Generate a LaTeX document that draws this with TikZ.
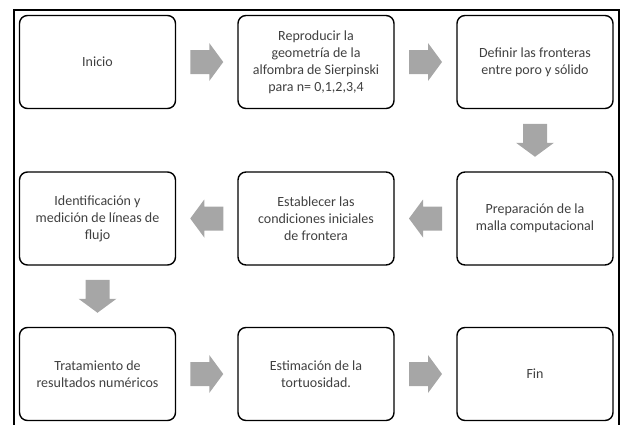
\documentclass[tikz,border=0pt]{standalone}
\usepackage{fontspec}
\setmainfont{Carlito}
\usetikzlibrary{calc}
\definecolor{arrowgray}{HTML}{A6A6A6}
\definecolor{txtgray}{HTML}{404040}
\tikzset{
  stepbox/.style={draw=black, line width=1.4pt, rounded corners=8pt, minimum width=156pt, minimum height=93pt, inner sep=0pt, align=center, text=txtgray, font=\fontsize{14}{17}\selectfont},
  arrowfill/.style={fill=arrowgray, draw=none},
  frame/.style={draw=black, line width=2pt}
}
\newcommand{\fatarrow}[2]{%
  \fill[arrowfill, shift={(#1)}, rotate=#2] (-16.5,-12) -- (2.5,-12) -- (2.5,-19) -- (16.5,0) -- (2.5,19) -- (2.5,12) -- (-16.5,12) -- cycle;}
\begin{document}
\begin{tikzpicture}[x=1pt, y=-1pt]
\useasboundingbox (0,0) rectangle (621,424);
\draw[frame] (13.5,430) -- (13.5,10) -- (619,10) -- (619,430);
% row 1
\node[stepbox] (b1) at (97.5,62) {Inicio};
\node[stepbox] (b2) at (316,62) {Reproducir la\\geometría de la\\alfombra de Sierpinski\\para n= 0,1,2,3,4};
\node[stepbox] (b3) at (535,62) {Definir las fronteras\\entre poro y sólido};
% row 2
\node[stepbox] (b4) at (535,218.5) {Preparación de la\\malla computacional};
\node[stepbox] (b5) at (316,218.5) {Establecer las\\condiciones iniciales\\de frontera};
\node[stepbox] (b6) at (97.5,218.5) {Identificación y\\medición de líneas de\\flujo};
% row 3
\node[stepbox] (b7) at (97.5,374) {Tratamiento de\\resultados numéricos};
\node[stepbox] (b8) at (316,374) {Estimación de la\\tortuosidad.};
\node[stepbox] (b9) at (535,374) {Fin};
% arrow anchors
\coordinate (a12) at ($(b1.east)!0.5!(b2.west)$);
\coordinate (a23) at ($(b2.east)!0.5!(b3.west)$);
\coordinate (a34) at ($(b3.south)!0.5!(b4.north)$);
\coordinate (a45) at ($(b4.west)!0.5!(b5.east)$);
\coordinate (a56) at ($(b5.west)!0.5!(b6.east)$);
\coordinate (a67) at ($(b6.south)!0.5!(b7.north)$);
\coordinate (a78) at ($(b7.east)!0.5!(b8.west)$);
\coordinate (a89) at ($(b8.east)!0.5!(b9.west)$);
\fatarrow{a12}{0}
\fatarrow{a23}{0}
\fatarrow{a34}{-90}
\fatarrow{a45}{180}
\fatarrow{a56}{180}
\fatarrow{a67}{-90}
\fatarrow{a78}{0}
\fatarrow{a89}{0}
\end{tikzpicture}
\end{document}
